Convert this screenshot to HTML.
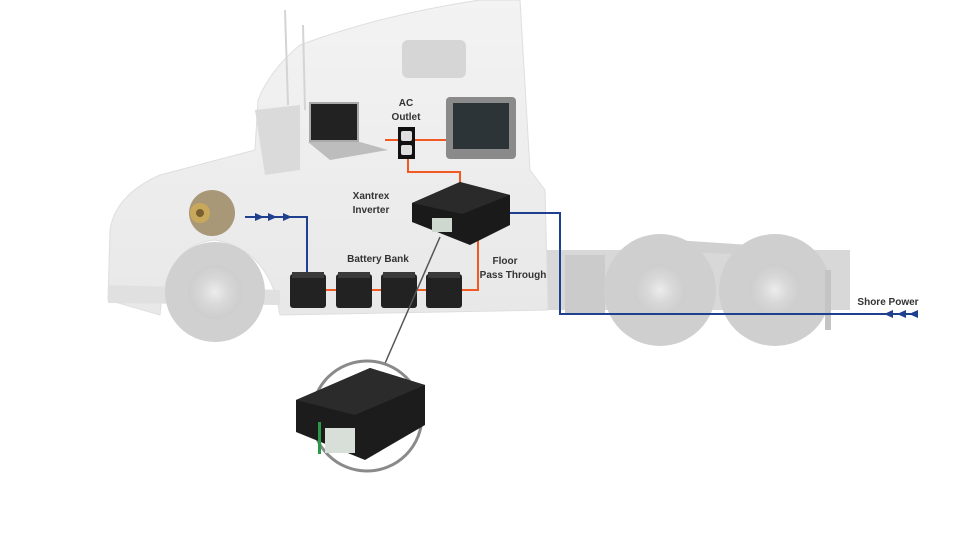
<!DOCTYPE html>
<html><head><meta charset="utf-8"><style>
html,body{margin:0;padding:0;background:#fff;}
svg{display:block}
text{font-family:"Liberation Sans",sans-serif;font-weight:bold;fill:#333;font-size:10px}
</style></head><body>
<svg width="980" height="552" viewBox="0 0 980 552" xmlns="http://www.w3.org/2000/svg">
<defs>
<radialGradient id="wh" cx="50%" cy="50%" r="50%"><stop offset="0" stop-color="#ececec"/><stop offset="0.5" stop-color="#d8d8d8"/><stop offset="1" stop-color="#cdcdcd"/></radialGradient>
<linearGradient id="cab" x1="0" y1="0" x2="0" y2="1"><stop offset="0" stop-color="#f3f3f3"/><stop offset="1" stop-color="#e8e8e8"/></linearGradient>
</defs>
<!-- chassis -->
<rect x="530" y="250" width="320" height="60" fill="#d8d8d8"/>
<polygon points="675,240 750,245 760,255 680,252" fill="#d0d0d0"/>
<rect x="565" y="255" width="40" height="60" fill="#cbcbcb"/>
<!-- rear wheels -->
<circle cx="660" cy="290" r="56" fill="#cfcfcf"/><circle cx="660" cy="290" r="26" fill="url(#wh)"/>
<circle cx="775" cy="290" r="56" fill="#cfcfcf"/><circle cx="775" cy="290" r="26" fill="url(#wh)"/>
<rect x="825" y="270" width="6" height="60" fill="#c4c4c4"/>
<!-- cab -->
<path d="M108,300 L110,230 Q115,195 160,175 L255,150 L258,100 Q270,70 300,45 Q380,15 480,0 L520,0 L530,170 L545,190 L548,310 L280,315 Q270,250 215,240 Q165,245 160,315 Z" fill="url(#cab)" stroke="#dedede"/>
<path d="M255,110 L300,105 L300,170 L265,175 Z" fill="#dadada"/>
<rect x="402" y="40" width="64" height="38" rx="6" fill="#d6d6d6"/>
<path d="M108,285 L280,290 L280,305 L108,303 Z" fill="#e0e0e0"/>
<line x1="285" y1="10" x2="288" y2="105" stroke="#d4d4d4" stroke-width="2"/>
<line x1="303" y1="25" x2="305" y2="110" stroke="#d4d4d4" stroke-width="2"/>
<!-- front wheel -->
<circle cx="215" cy="292" r="50" fill="#d0d0d0"/><circle cx="215" cy="292" r="27" fill="url(#wh)"/>
<!-- alternator -->
<circle cx="212" cy="213" r="23" fill="#a89878"/><circle cx="200" cy="213" r="10" fill="#c8a85a"/><circle cx="200" cy="213" r="4" fill="#7a6030"/>
<!-- wires -->
<polyline points="245,217 307,217 307,275" fill="none" stroke="#1f3f8f" stroke-width="2"/>
<polygon points="255,213 264,217 255,221" fill="#1f3f8f"/><polygon points="268,213 277,217 268,221" fill="#1f3f8f"/><polygon points="283,213 292,217 283,221" fill="#1f3f8f"/>
<polyline points="490,213 560,213 560,314 918,314" fill="none" stroke="#1f3f8f" stroke-width="2"/>
<polygon points="893,310 884,314 893,318" fill="#1f3f8f"/><polygon points="906,310 897,314 906,318" fill="#1f3f8f"/><polygon points="918,310 909,314 918,318" fill="#1f3f8f"/>
<polyline points="320,290 465,290 478,290 478,232" fill="none" stroke="#f05a22" stroke-width="2"/>
<polyline points="385,140 447,140" fill="none" stroke="#f05a22" stroke-width="2"/>
<polyline points="408,158 408,172 460,172 460,186" fill="none" stroke="#f05a22" stroke-width="2"/>
<!-- batteries -->
<g fill="#222">
<rect x="290" y="274" width="36" height="34" rx="3"/><rect x="336" y="274" width="36" height="34" rx="3"/><rect x="381" y="274" width="36" height="34" rx="3"/><rect x="426" y="274" width="36" height="34" rx="3"/>
</g>
<g fill="#3a3a3a"><rect x="292" y="272" width="32" height="6"/><rect x="338" y="272" width="32" height="6"/><rect x="383" y="272" width="32" height="6"/><rect x="428" y="272" width="32" height="6"/></g>
<!-- laptop -->
<rect x="310" y="103" width="48" height="38" fill="#222" stroke="#aaa" stroke-width="2"/>
<polygon points="308,142 360,142 388,150 330,160" fill="#bdbdbd"/>
<!-- outlet -->
<rect x="398" y="127" width="17" height="32" fill="#111"/>
<rect x="401" y="131" width="11" height="10" rx="2" fill="#ddd"/><rect x="401" y="145" width="11" height="10" rx="2" fill="#ddd"/>
<!-- TV -->
<rect x="446" y="97" width="70" height="62" rx="4" fill="#8a8a8a"/><rect x="453" y="103" width="56" height="46" fill="#2c3438"/>
<!-- inverter -->
<polygon points="412,203 460,182 510,195 510,225 470,245 412,222" fill="#1a1a1a"/>
<polygon points="412,203 460,182 510,195 462,214" fill="#2a2a2a"/>
<rect x="432" y="218" width="20" height="14" fill="#cfd8cf"/>
<line x1="440" y1="237" x2="383" y2="368" stroke="#555" stroke-width="1.5"/>
<!-- zoom circle -->
<circle cx="367" cy="416" r="55" fill="#fff" stroke="#8a8a8a" stroke-width="3"/>
<polygon points="296,400 370,368 425,385 425,425 365,460 296,432" fill="#1c1c1c"/>
<polygon points="296,400 370,368 425,385 355,415" fill="#2b2b2b"/>
<rect x="325" y="428" width="30" height="25" fill="#d8ded8"/>
<rect x="318" y="422" width="3" height="32" fill="#2a9a4a"/>
<!-- labels -->
<text x="406" y="106" text-anchor="middle">AC</text>
<text x="406" y="120" text-anchor="middle">Outlet</text>
<text x="371" y="199" text-anchor="middle">Xantrex</text>
<text x="371" y="213" text-anchor="middle">Inverter</text>
<text x="378" y="262" text-anchor="middle">Battery Bank</text>
<text x="505" y="264" text-anchor="middle">Floor</text>
<text x="513" y="278" text-anchor="middle">Pass Through</text>
<text x="888" y="305" text-anchor="middle">Shore Power</text>
</svg>
</body></html>
